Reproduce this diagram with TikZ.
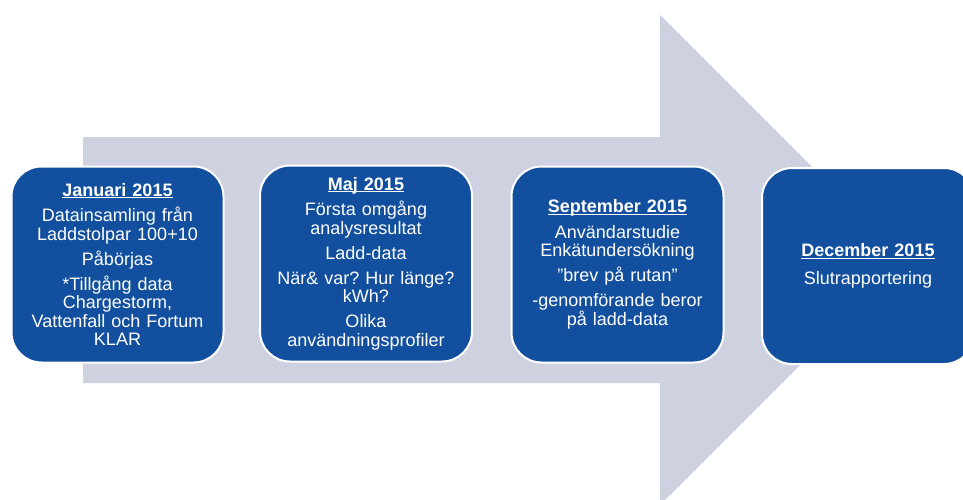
\documentclass[tikz,border=0pt]{standalone}
\usepackage{fontspec}
\setmainfont{Liberation Sans}
\definecolor{boxblue}{RGB}{18,80,159}
\definecolor{arrowgray}{RGB}{205,209,224}
\newcommand{\hd}[1]{\setbox0\hbox{\textbf{#1}}\leavevmode\rlap{\rule[-2.2pt]{\wd0}{1.3pt}}\box0}
\frenchspacing
\begin{document}
\begin{tikzpicture}[x=1pt,y=-1pt,
  stepbox/.style={draw=white, line width=2pt, fill=boxblue, rounded corners=30pt,
    minimum width=212pt, minimum height=196pt, text=white,
    font=\fontsize{18}{18.5}\selectfont\frenchspacing, align=center, text width=208pt, inner sep=0pt},
  bigarrow/.style={fill=arrowgray}]
\useasboundingbox (0,0) rectangle (963,500);
\clip (0,0) rectangle (963,500);
\fill[bigarrow] (83,137) -- (660,137) -- (660,15) -- (905,260) -- (660,505) -- (660,383) -- (83,383) -- cycle;
\node[stepbox] (b1) at (117.5,264.5) {\hd{Januari 2015}\\[7pt]
  Datainsamling från\\ Laddstolpar 100+10\\[6.5pt]
  Påbörjas\\[6.5pt]
  *Tillgång data\\ Chargestorm,\\ Vattenfall och Fortum\\ KLAR};
\node[stepbox] (b2) at (366,263.5) {\hd{Maj 2015}\\[7pt]
  Första omgång\\ analysresultat\\[6.5pt]
  Ladd-data\\[6.5pt]
  När\& var? Hur länge?\\ kWh?\\[6.5pt]
  Olika\\ användningsprofiler};
\node[stepbox] (b3) at (617.5,264.5) {\hd{September 2015}\\[7pt]
  Användarstudie\\ Enkätundersökning\\[6.5pt]
  ”brev på rutan”\\[6.5pt]
  -genomförande beror\\ på ladd-data};
\node[stepbox] (b4) at (868,266) {\hd{December 2015}\\[9pt]
  Slutrapportering};
\end{tikzpicture}
\end{document}
